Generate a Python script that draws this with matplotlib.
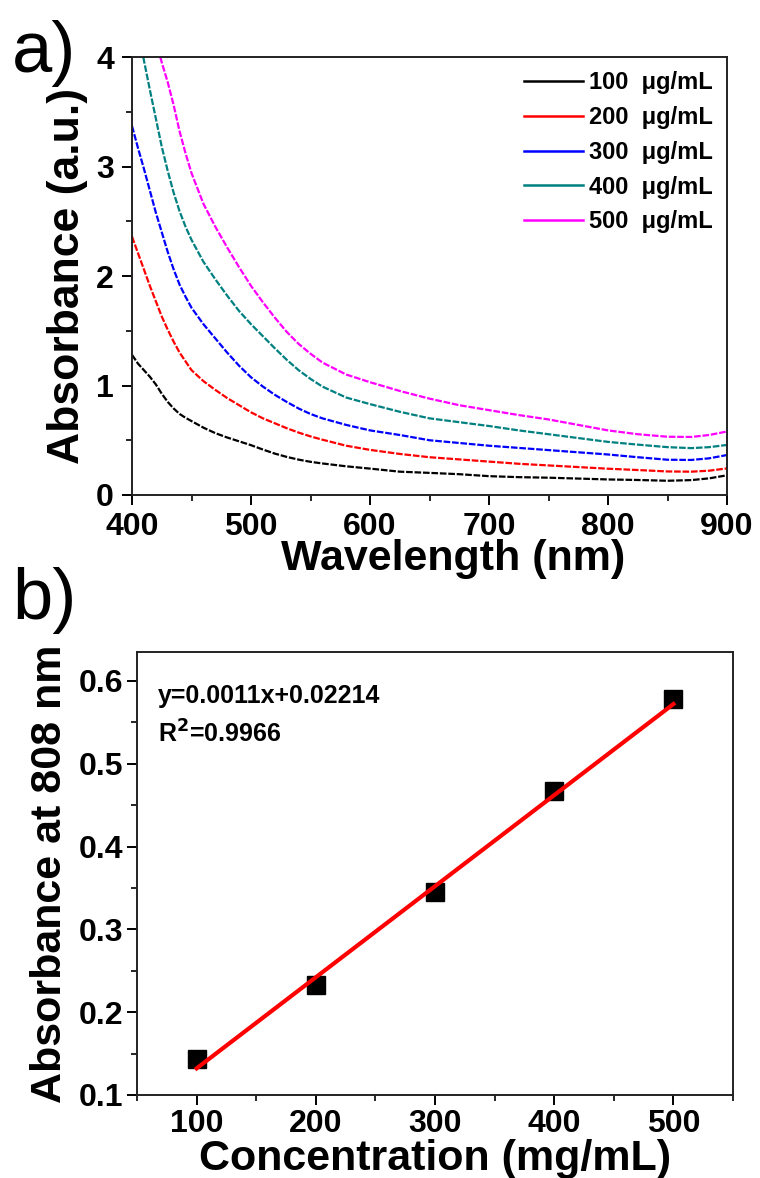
import matplotlib
matplotlib.use("Agg")
import matplotlib.pyplot as plt
from matplotlib.lines import Line2D
from matplotlib.ticker import MultipleLocator
import numpy as np

plt.rcParams['font.family'] = ['Liberation Sans', 'DejaVu Sans']

# panel a) absorbance spectra
wavelength = [400, 405, 410, 415, 420, 425, 430, 435, 440, 445, 450,
              460, 470, 480, 490, 500, 510, 520, 530, 540, 550, 560, 580, 600,
              625, 650, 675, 700, 725, 750, 775, 800, 825, 850, 870, 885, 900]
abs_100 = [1.28, 1.20, 1.14, 1.08, 1.01, 0.925, 0.85, 0.79, 0.74, 0.705, 0.675,
           0.615, 0.565, 0.525, 0.49, 0.455, 0.415, 0.378, 0.348, 0.323, 0.303, 0.288, 0.262, 0.241,
           0.213, 0.202, 0.19, 0.172, 0.163, 0.158, 0.15, 0.142, 0.137, 0.13, 0.136, 0.152, 0.18]
abs_200 = [2.36, 2.21, 2.06, 1.91, 1.77, 1.63, 1.51, 1.40, 1.30, 1.22, 1.14,
           1.04, 0.96, 0.885, 0.82, 0.755, 0.70, 0.655, 0.61, 0.57, 0.535, 0.505, 0.45, 0.412,
           0.375, 0.345, 0.325, 0.305, 0.285, 0.27, 0.255, 0.24, 0.228, 0.215, 0.213, 0.222, 0.243]
abs_300 = [3.37, 3.17, 2.98, 2.78, 2.58, 2.40, 2.22, 2.06, 1.92, 1.81, 1.71,
           1.56, 1.43, 1.30, 1.18, 1.075, 0.99, 0.915, 0.85, 0.79, 0.74, 0.70, 0.64, 0.59,
           0.548, 0.50, 0.475, 0.45, 0.43, 0.41, 0.39, 0.37, 0.345, 0.322, 0.32, 0.335, 0.365]
abs_400 = [4.55, 4.25, 3.97, 3.70, 3.44, 3.18, 2.96, 2.76, 2.59, 2.45, 2.33,
           2.13, 1.97, 1.82, 1.68, 1.56, 1.45, 1.34, 1.235, 1.14, 1.06, 0.99, 0.89, 0.83,
           0.76, 0.70, 0.665, 0.63, 0.59, 0.555, 0.52, 0.485, 0.46, 0.437, 0.428, 0.437, 0.457]
abs_500 = [5.6, 5.2, 4.85, 4.5, 4.15, 3.95, 3.77, 3.56, 3.32, 3.12, 2.94,
           2.66, 2.45, 2.26, 2.08, 1.91, 1.76, 1.62, 1.49, 1.38, 1.29, 1.21, 1.10, 1.03,
           0.95, 0.88, 0.82, 0.775, 0.73, 0.69, 0.64, 0.59, 0.555, 0.532, 0.53, 0.548, 0.58]
series = [abs_100, abs_200, abs_300, abs_400, abs_500]
labels = ['100  \u03bcg/mL', '200  \u03bcg/mL', '300  \u03bcg/mL', '400  \u03bcg/mL', '500  \u03bcg/mL']
colors = ['#000000', '#ff0000', '#0000ff', '#008080', '#ff00ff']

# panel b) absorbance at 808 nm vs concentration
conc = [100, 200, 300, 400, 500]
abs_808 = [0.143, 0.233, 0.345, 0.467, 0.578]
slope = 0.0011
intercept = 0.02214

fig = plt.figure(figsize=(7.6, 11.78), dpi=100)

# ---- panel a
ax1 = fig.add_axes([0.1737, 0.5798, 0.7829, 0.3718])
for ys, c in zip(series, colors):
    ax1.plot(wavelength, ys, color=c, lw=1.6, linestyle=(0, (3, 0.8)))
ax1.set_xlim(400, 900)
ax1.set_ylim(0, 4)
ax1.xaxis.set_major_locator(MultipleLocator(100))
ax1.xaxis.set_minor_locator(MultipleLocator(50))
ax1.yaxis.set_major_locator(MultipleLocator(1))
ax1.yaxis.set_minor_locator(MultipleLocator(0.5))
ax1.set_xlabel('Wavelength (nm)', fontsize=31, fontweight='bold')
ax1.xaxis.set_label_coords(0.54, -0.1, transform=ax1.transAxes)
ax1.xaxis.label.set_va('top')
ax1.set_ylabel('Absorbance (a.u.)', fontsize=32, fontweight='bold', labelpad=6)

handles = [Line2D([0], [0], color=c, lw=1.8) for c in colors]
ax1.legend(handles, labels, loc='upper right', frameon=False,
           prop={'weight': 'bold', 'size': 17},
           handlelength=2.5, handletextpad=0.25, labelspacing=0.5,
           borderaxespad=0.3, borderpad=0.3)

# ---- panel b
ax2 = fig.add_axes([0.1803, 0.0705, 0.7842, 0.376])
fit_x = np.array([conc[0], conc[-1]])
ax2.plot(fit_x, slope * fit_x + intercept, color='#ff0000', lw=3, zorder=3)
ax2.plot(conc, abs_808, 's', color='black', markersize=13, zorder=2)
ax2.set_xlim(50, 550)
ax2.set_ylim(0.1, 0.635)
ax2.xaxis.set_major_locator(MultipleLocator(100))
ax2.xaxis.set_minor_locator(MultipleLocator(50))
ax2.yaxis.set_major_locator(MultipleLocator(0.1))
ax2.yaxis.set_minor_locator(MultipleLocator(0.05))
ax2.set_xlabel('Concentration (mg/mL)', fontsize=31, fontweight='bold', labelpad=0)
ax2.set_ylabel('Absorbance at 808 nm', fontsize=31, fontweight='bold', labelpad=6)
ax2.text(0.035, 0.9, 'y=0.0011x+0.02214', transform=ax2.transAxes,
         fontsize=18, fontweight='bold', va='center')
ax2.text(0.035, 0.815, 'R$^\\mathbf{2}$=0.9966', transform=ax2.transAxes,
         fontsize=18, fontweight='bold', va='center')

for ax in (ax1, ax2):
    for sp in ax.spines.values():
        sp.set_linewidth(1.4)
        sp.set_color('#222222')
    ax.tick_params(which='major', direction='out', length=7, width=1.4, labelsize=23,
                   top=False, right=False, pad=3)
    ax.tick_params(which='minor', direction='out', length=4, width=1.2,
                   top=False, right=False)
    for lab in ax.get_xticklabels() + ax.get_yticklabels():
        lab.set_fontweight('bold')
ax1.tick_params(axis='x', which='major', pad=5)
ax1.tick_params(axis='y', which='major', pad=6)

fig.text(0.058, 0.955, 'a)', fontsize=52, ha='center', va='center')
fig.text(0.058, 0.49, 'b)', fontsize=52, ha='center', va='center')

fig.savefig('out.png', dpi=100)
